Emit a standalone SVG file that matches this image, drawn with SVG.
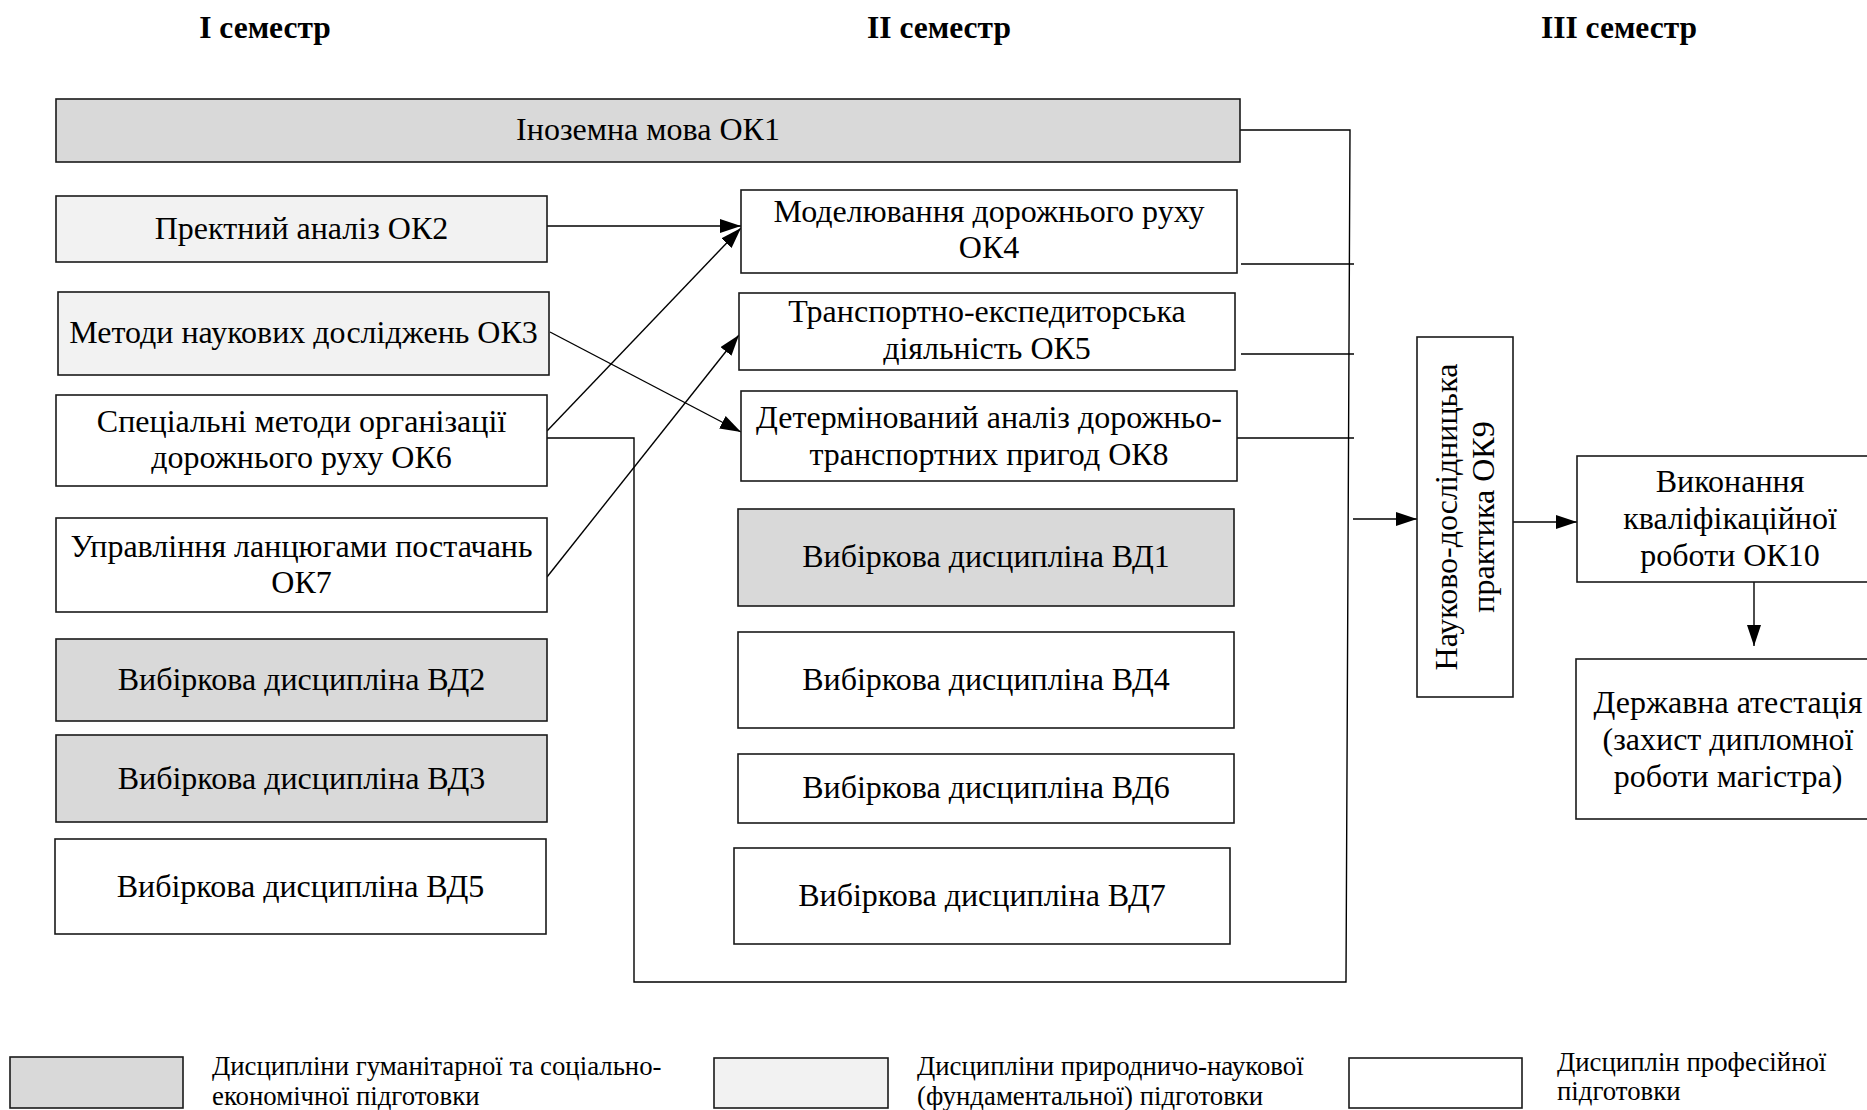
<svg xmlns="http://www.w3.org/2000/svg" width="1867" height="1110" viewBox="0 0 1867 1110">
<style>
text{font-family:"Liberation Serif","Times New Roman",serif;fill:#000}
.t{font-size:32px;text-anchor:middle}
.h{font-size:31.5px;font-weight:bold;text-anchor:middle}
.lg{font-size:26.8px}
.b{stroke:#1a1a1a;stroke-width:1.6}
.w{fill:#fff}
.g{fill:#d9d9d9}
.l{fill:#f2f2f2}
.c{fill:none;stroke:#000;stroke-width:1.4}
</style>
<defs>
<marker id="ah" markerUnits="userSpaceOnUse" markerWidth="21" markerHeight="14" refX="21" refY="7" orient="auto">
<path d="M0,0 L21,7 L0,14 z" fill="#000"/>
</marker>
</defs>
<rect x="0" y="0" width="1867" height="1110" fill="#fff"/>

<g id="titles">
<text class="h" x="265" y="38">I семестр</text>
<text class="h" x="939" y="38">II семестр</text>
<text class="h" x="1619" y="38">III семестр</text>
</g>

<g id="connectors">
<path class="c" d="M547,226 L741,226" marker-end="url(#ah)"/>
<path class="c" d="M547,431 L741,228" marker-end="url(#ah)"/>
<path class="c" d="M550,332 L741,432" marker-end="url(#ah)"/>
<path class="c" d="M547,577 L739,335" marker-end="url(#ah)"/>
<path class="c" d="M547,438 L634,438 L634,982 L1346,982 L1350,130 L1240,130"/>
<path class="c" d="M1241,264 L1354,264"/>
<path class="c" d="M1241,354 L1354,354"/>
<path class="c" d="M1237,438 L1354,438"/>
<path class="c" d="M1353,519 L1417,519" marker-end="url(#ah)"/>
<path class="c" d="M1513,522 L1577,522" marker-end="url(#ah)"/>
<path class="c" d="M1754,582 L1754,646" marker-end="url(#ah)"/>
</g>

<g id="ok1"><rect class="b g" x="56" y="99" width="1184" height="63"/><text class="t" x="648" y="140">Іноземна мова ОК1</text></g>
<g id="ok2"><rect class="b l" x="56" y="196" width="491" height="66"/><text class="t" x="301.5" y="239">Пректний аналіз ОК2</text></g>
<g id="ok3"><rect class="b l" x="58" y="292" width="491" height="83"/><text class="t" x="303.5" y="343">Методи наукових досліджень ОК3</text></g>
<g id="ok6"><rect class="b w" x="56" y="395" width="491" height="91"/><text class="t" x="301.5" y="432">Спеціальні методи організації</text><text class="t" x="301.5" y="468">дорожнього руху ОК6</text></g>
<g id="ok7"><rect class="b w" x="56" y="518" width="491" height="94"/><text class="t" x="301.5" y="557">Управління ланцюгами постачань</text><text class="t" x="301.5" y="593">ОК7</text></g>
<g id="vd2"><rect class="b g" x="56" y="639" width="491" height="82"/><text class="t" x="301.5" y="690">Вибіркова дисципліна ВД2</text></g>
<g id="vd3"><rect class="b g" x="56" y="735" width="491" height="87"/><text class="t" x="301.5" y="789">Вибіркова дисципліна ВД3</text></g>
<g id="vd5"><rect class="b w" x="55" y="839" width="491" height="95"/><text class="t" x="300.5" y="897">Вибіркова дисципліна ВД5</text></g>

<g id="ok4"><rect class="b w" x="741" y="190" width="496" height="83"/><text class="t" x="989" y="222">Моделювання дорожнього руху</text><text class="t" x="989" y="258">ОК4</text></g>
<g id="ok5"><rect class="b w" x="739" y="293" width="496" height="77"/><text class="t" x="987" y="322">Транспортно-експедиторська</text><text class="t" x="987" y="359">діяльність ОК5</text></g>
<g id="ok8"><rect class="b w" x="741" y="391" width="496" height="90"/><text class="t" x="989" y="428">Детермінований аналіз дорожньо-</text><text class="t" x="989" y="465">транспортних пригод ОК8</text></g>
<g id="vd1"><rect class="b g" x="738" y="509" width="496" height="97"/><text class="t" x="986" y="567">Вибіркова дисципліна ВД1</text></g>
<g id="vd4"><rect class="b w" x="738" y="632" width="496" height="96"/><text class="t" x="986" y="690">Вибіркова дисципліна ВД4</text></g>
<g id="vd6"><rect class="b w" x="738" y="754" width="496" height="69"/><text class="t" x="986" y="798">Вибіркова дисципліна ВД6</text></g>
<g id="vd7"><rect class="b w" x="734" y="848" width="496" height="96"/><text class="t" x="982" y="906">Вибіркова дисципліна ВД7</text></g>

<g id="ok9"><rect class="b w" x="1417" y="337" width="96" height="360"/>
<g transform="translate(1457,517) rotate(-90)"><text class="t" x="0" y="0">Науково-дослідницька</text><text class="t" x="0" y="37">практика ОК9</text></g></g>
<g id="ok10"><rect class="b w" x="1577" y="456" width="320" height="126"/><text class="t" x="1730" y="492">Виконання</text><text class="t" x="1730" y="529">кваліфікаційної</text><text class="t" x="1730" y="566">роботи ОК10</text></g>
<g id="attest"><rect class="b w" x="1576" y="659" width="320" height="160"/><text class="t" x="1728" y="713">Державна атестація</text><text class="t" x="1728" y="750">(захист дипломної</text><text class="t" x="1728" y="787">роботи магістра)</text></g>

<g id="legend">
<rect class="b g" x="10" y="1057" width="173" height="51"/>
<text class="lg" x="212" y="1075">Дисципліни гуманітарної та соціально-</text>
<text class="lg" x="212" y="1105">економічної підготовки</text>
<rect class="b l" x="714" y="1058" width="174" height="50"/>
<text class="lg" x="917" y="1075">Дисципліни природничо-наукової</text>
<text class="lg" x="917" y="1105">(фундаментальної) підготовки</text>
<rect class="b w" x="1349" y="1058" width="173" height="50"/>
<text class="lg" x="1557" y="1071">Дисциплін професійної</text>
<text class="lg" x="1557" y="1100">підготовки</text>
</g>
</svg>
